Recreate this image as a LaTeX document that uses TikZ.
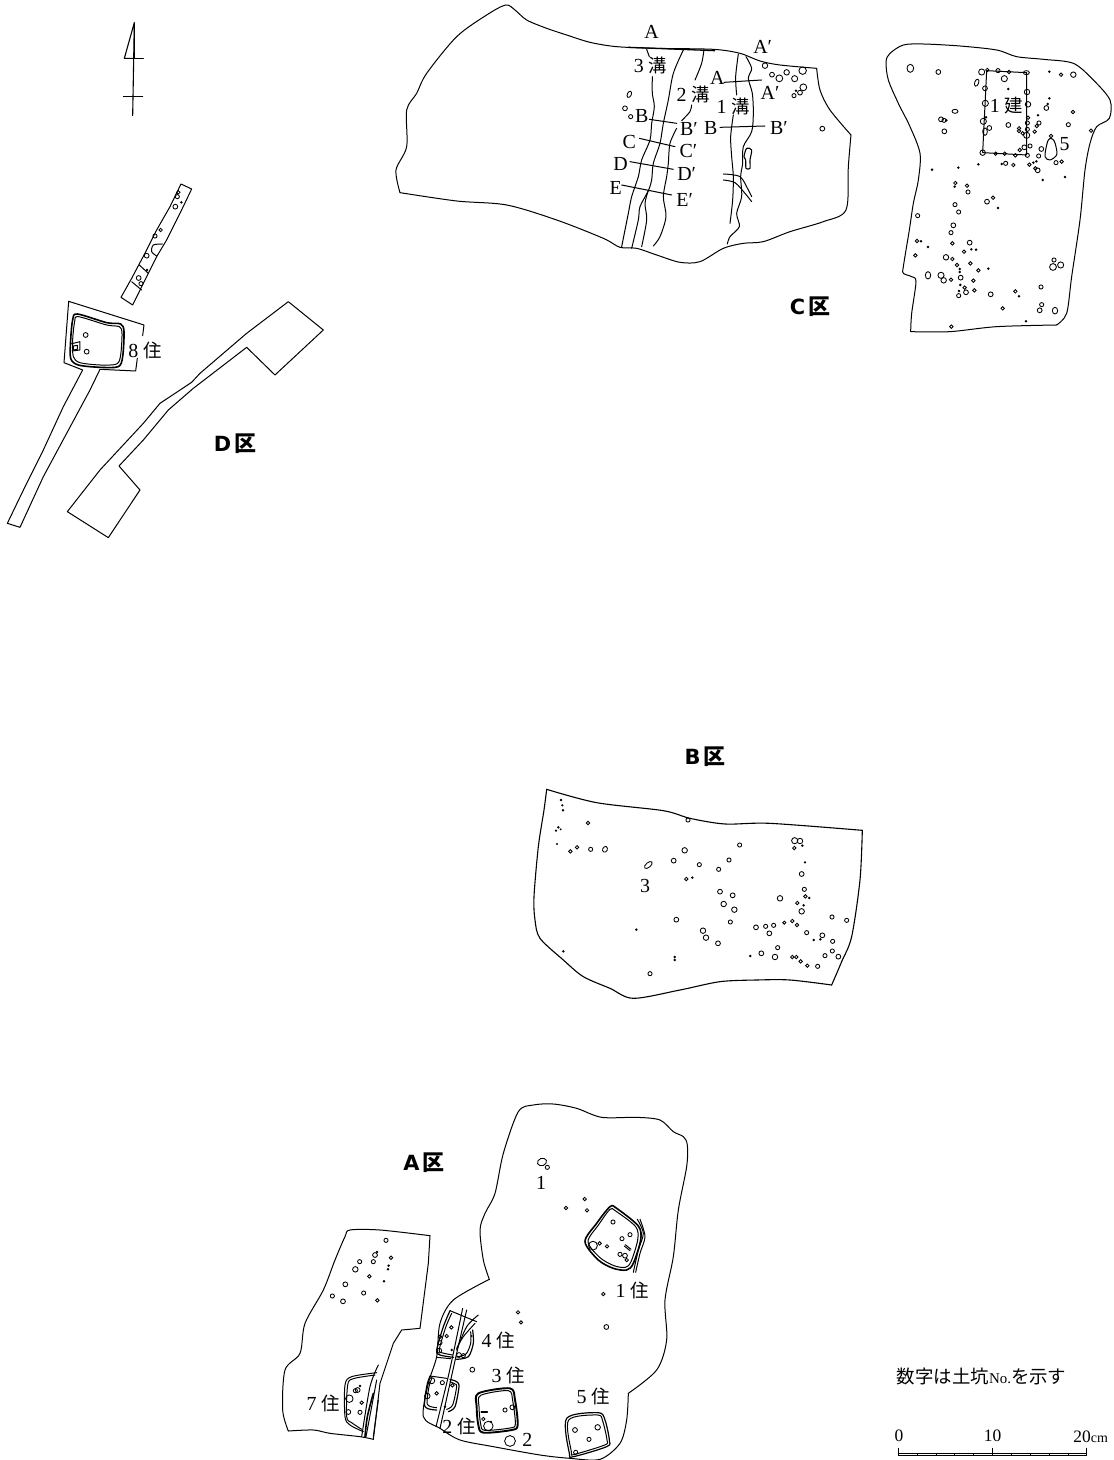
\documentclass[tikz,border=0pt]{standalone}
\usepackage{fontspec}
\setmainfont{Liberation Serif}
\newfontfamily\dv{DejaVu Sans}
\newfontfamily\cjk{Noto Sans CJK JP}
\tikzset{
  ln/.style={line width=1bp,line join=round,line cap=round},
  hole/.style={draw,line width=0.85bp},
  dot/.style={fill=black},
  thick2/.style={line width=1.6bp,line join=round},
  lab/.style={font=\fontsize{20}{20}\selectfont,inner sep=0pt},
  sm/.style={font=\fontsize{17.5}{17.5}\selectfont,inner sep=0pt},
  reg/.style={inner sep=0pt},
  zm/.style 2 args={shift={(#1,#2)},x=0.33333bp,y=-0.33333bp}
}
\newcommand\holes[1]{\foreach \hx/\hy/\hr in {#1}{%
  \ifdim\hr pt<3.4pt \fill (\hx,\hy) circle[radius=\hr+1.2];%
  \else \draw[hole] (\hx,\hy) circle[radius=\hr+1.2];\fi}}
\newcommand\cur[2][]{\draw[ln,#1] plot[smooth,tension=.5] coordinates {#2};}
\newcommand\loopc[2][]{\draw[ln,#1] plot[smooth cycle,tension=.5] coordinates {#2};}
\newcommand\cj[1]{{\fontsize{18.5}{18.5}\selectfont\cjk #1}}
\newcommand\regl[1]{{\fontsize{21}{21}\selectfont\dv\bfseries #1}\kern3bp{\fontsize{22}{22}\selectfont\cjk\bfseries 区}}
\begin{document}
\begin{tikzpicture}[x=1bp,y=-1bp]
\fill[white] (0,0) rectangle (1113,1460);
\useasboundingbox (0,0) rectangle (1113,1460);

% north arrow
\begin{scope}[zm={100}{10}]
\draw[line width=1.1bp,line join=round] (103,38) -- (73,145) -- (103,145) -- cycle;
\draw[line width=1.1bp] (103,38) -- (98,318);
\draw[ln] (73,147) -- (130,147);
\draw[ln] (70,260) -- (128,260);
\end{scope}

% C west
\begin{scope}[zm={390}{0}]
\cur{(30,578)(18,510)(50,440)(50,330)(80,280)(110,220)(200,110)(290,45)(347,15)(375,30)(410,60)(470,85)(530,105)(600,127)(680,140)(800,145)(970,148)(1050,160)(1110,183)(1170,195)(1280,205)}
\cur{(1280,205)(1290,270)(1320,330)(1383,405)}
\cur{(1383,405)(1375,500)(1368,630)(1300,665)(1200,695)(1120,725)(1060,730)(1000,745)(930,785)(870,787)(800,765)(740,745)(690,742)(640,715)(500,660)(350,615)(200,603)(30,578)}
\draw[line width=1.3bp] (715,142) -- (975,152);
\cur{(770,148)(778,170)}
\cur{(787,230)(787,280)(793,320)(785,370)(780,420)(755,480)(745,530)(725,590)(715,640)(695,740)}
\cur{(880,150)(850,220)(835,300)(820,370)(810,430)(790,490)(785,540)(775,572)(750,620)(745,660)(725,745)}
\cur{(775,572)(765,610)(770,660)(755,740)}
\cur{(942,148)(935,190)(915,240)}
\cur{(905,315)(900,335)(875,362)}
\cur{(860,385)(840,430)(835,490)(830,530)(820,590)(828,650)(810,710)(790,738)}
\cur{(1045,162)(1037,230)(1040,285)}
\cur{(1030,345)(1022,410)(1025,470)(1030,530)(1028,600)(1020,670)}
\cur{(1068,170)(1085,205)(1075,235)(1087,280)(1090,340)(1085,395)(1060,440)(1058,490)(1052,530)(1055,590)(1040,640)(1048,680)(1020,710)(1012,732)}
\loopc[line width=1.1bp]{(1070,445)(1085,450)(1080,480)(1080,505)(1068,505)(1067,480)(1062,470)}
\cur{(1000,522)(1050,530)(1075,570)(1085,590)}
\cur{(1000,540)(1035,548)(1065,580)(1085,605)}
\draw[ln] (1002,247) -- (1115,240);
\draw[ln] (990,382) -- (1125,378);
\draw[ln] (778,358) -- (860,370);
\draw[ln] (748,415) -- (855,440);
\draw[ln] (720,485) -- (850,508);
\draw[ln] (695,555) -- (845,585);
\holes{1125/197/7,1146/224/6,1168/235/9,1190/217/7,1214/236/8,1238/212/10,1240/262/9,1230/278/6,1218/272/3,1212/287/5,1297/386/6,705/325/6,722/350/5}
\draw[hole] (718,283) ellipse[x radius=6,y radius=10,rotate=-25];
\node[lab] (ca1) at (785,97) {A};
\node[lab] (ca2) at (1118,140) {A′};
\node[lab] (d3) at (782,197) {3 \cj{溝}};
\node[lab] (d2) at (910,283) {2 \cj{溝}};
\node[lab] (ca3) at (982,235) {A};
\node[lab] (ca4) at (1140,280) {A′};
\node[lab] (d1) at (1030,320) {1 \cj{溝}};
\node[lab] (cb1) at (755,347) {B};
\node[lab] (cb2) at (897,387) {B′};
\node[lab] (cb3) at (962,383) {B};
\node[lab] (cb4) at (1167,385) {B′};
\node[lab] (cc1) at (718,427) {C};
\node[lab] (cc2) at (895,453) {C′};
\node[lab] (cd1) at (692,492) {D};
\node[lab] (cd2) at (890,522) {D′};
\node[lab] (ce1) at (677,565) {E};
\node[lab] (ce2) at (884,600) {E′};
\end{scope}

% C east
\begin{scope}[zm={870}{30}]
\cur{(122,905)(125,850)(138,755)(125,740)(100,730)(100,710)(118,600)(130,520)(145,450)(150,370)(120,290)(85,220)(55,150)(48,95)(60,70)(100,45)(160,42)(270,48)(380,60)(440,80)(520,88)(610,100)(670,150)(720,210)(718,265)(680,290)(660,340)(645,420)(630,570)(605,740)(590,850)(560,885)}
\cur{(560,885)(380,890)(240,905)(122,905)}
\draw[ln] (350,122) -- (470,128) -- (470,375) -- (338,368) -- cycle;
\loopc{(543,325)(552,332)(558,350)(560,375)(540,390)(525,380)(530,345)(535,330)}
\holes{205/126/6,335/126/8,352/120/4,384/122/5,417/126/4,403/146/8,415/177/3,345/175/6,471/186/7,346/220/8,474/223/7,213/268/6,222/271/5,229/271/3,348/262/3,340/274/8,474/263/4,472/279/5,472/298/5,415/285/6,447/295/4,447/303/4,458/310/4,470/316/8,358/294/6,223/304/6,538/125/3,573/134/4,610/134/7,538/205/3,533/222/3,529/234/6,504/256/3,609/246/4,507/279/5,500/288/4,595/284/5,663/302/4,494/305/4,543/318/4,480/348/5,463/352/6,449/360/4,514/357/6,506/378/5,472/376/5,436/376/4,404/371/4,377/371/4,338/368/7,558/398/5,575/395/4,478/404/4,490/398/3,499/394/3,395/402/3,407/400/5,430/405/4,325/403/3,265/413/3,186/419/3,496/415/4,503/421/6,518/450/3,585/441/3,256/459/4,254/470/3,291/467/4,294/486/5,369/503/4,351/515/6,384/534/3,255/524/5,266/546/5,143/557/5,250/586/6,243/608/5,141/633/4,153/634/3,174/651/3,247/640/4,299/638/6,282/665/4,304/658/3,318/659/3,136/676/4,228/682/7,247/687/4,301/700/4,261/705/4,269/717/3,269/726/3,325/721/4,355/716/3,272/743/6,213/736/8,221/751/7,243/749/4,310/752/4,271/765/3,284/773/4,288/787/6,267/783/3,266/797/5,313/781/4,362/793/6,436/784/4,447/799/3,513/771/5,552/690/5,572/705/8,549/711/9,515/824/5,509/841/6,398/835/4,468/874/3,244/890/4}
\draw[hole] (121,115) ellipse[x radius=10,y radius=12];
\draw[hole] (469,128) ellipse[x radius=9,y radius=6];
\draw[hole] (320,158) ellipse[x radius=6,y radius=11,rotate=-20];
\draw[hole] (255,244) ellipse[x radius=9,y radius=6];
\draw[hole] (345,305) ellipse[x radius=7,y radius=11];
\draw[hole] (174,736) ellipse[x radius=8,y radius=11];
\draw[hole] (555,842) ellipse[x radius=8,y radius=10];
\node[lab] (b1) at (410,228) {1 \cj{建}};
\node[lab] (n5) at (584,343) {5};
\end{scope}

\node[reg] (regc) at (810,307) {\regl{C}};

% D
\begin{scope}[zm={0}{170}]
\draw[ln] (543,42) -- (575,57) -- (540,130) -- (500,210) -- (470,260) -- (440,320) -- (398,405) -- (363,382) -- (395,325) -- (440,240) -- (470,180) -- (510,110) -- cycle;
\cur{(487,222)(460,225)(455,245)(470,258)}
\draw[ln] (418,285) -- (445,310);
\draw[ln] (395,335) -- (425,360);
\holes{535/67/4,532/80/5,544/97/3,526/110/6,482/180/4,465/198/5,440/257/6,441/300/3,416/324/6,423/341/5,257/495/6,260/545/6}
\draw[ln] (428,497) -- (432,465) -- (206,394) -- (192,578) -- (248,600) -- (190,710) -- (130,840) -- (80,940) -- (22,1060) -- (60,1072) -- (130,920) -- (200,790) -- (270,660) -- (300,598) -- (407,603) -- (412,565);
\loopc[thick2]{(232,432)(320,458)(362,462)(372,485)(368,560)(355,590)(300,592)(235,585)(212,565)(212,510)(218,450)}
\loopc{(235,440)(320,465)(358,470)(366,490)(362,555)(350,582)(300,585)(240,578)(220,560)(218,510)(224,455)}
\draw[ln] (212,522) -- (240,515) -- (240,540) -- (216,543);
\draw[ln] (220,528) -- (232,526) -- (232,538) -- (220,540) -- cycle;
\draw[ln] (865,395) -- (740,490) -- (600,610) -- (575,637) -- (480,700) -- (430,760) -- (300,900) -- (202,1025) -- (325,1103) -- (420,960) -- (357,888) -- (430,810) -- (505,720) -- (580,655) -- (740,532) -- (825,615) -- (970,480) -- cycle;
\node[lab] (h8) at (435,540) {8 \cj{住}};
\end{scope}
\node[reg] (regd) at (235,444) {\regl{D}};

% B
\begin{scope}[zm={530}{780}]
\cur[line width=1.1bp]{(50,28)(200,68)(400,92)(480,115)(585,132)(720,130)(997,151)}
\cur[line width=1.1bp]{(997,151)(990,300)(965,470)(935,545)(905,615)}
\cur[line width=1.1bp]{(905,615)(780,600)(680,600)(570,605)(450,630)(310,655)(240,625)(160,590)(100,540)(30,475)(15,420)(12,350)(25,200)(42,90)(50,28)}
\holes{93/60/3,97/76/2.5,99/91/3,85/142/3,92/148/2,78/152/2.5,81/192/2.5,174/129/4,474/120/5,121/214/4,141/202/4,182/208/5,629/195/5,464/211/7,431/242/6,508/254/5,597/240/5,566/268/5,469/297/4,487/293/3,794/182/8,810/183/7,793/204/4,817/197/3,825/247/2.5,815/282/6,823/328/5,826/349/4,838/354/3,802/369/4,821/376/3,815/394/7,750/355/7,570/335/6,608/346/6,581/372/7,613/389/7,601/426/5,439/419/6,319/449/3,519/452/7,528/473/7,564/490/6,100/514/3,906/411/5,950/421/5,787/423/4,801/435/4,763/428/3.5,731/436/5,707/439/5,678/442/6,718/460/6,830/458/5,877/466/6,871/478/3,851/480/3,908/484/5,743/503/5,694/520/6,661/528/3,735/531/7,787/531/4,799/531/4,812/544/4,832/557/4,863/559/5,885/527/5,907/513/5,925/530/6,434/531/3,434/540/3,360/581/5}
\draw[hole] (225,208) ellipse[x radius=7,y radius=9,rotate=-25];
\draw[hole] (355,255) ellipse[x radius=14,y radius=7,rotate=40];
\node[lab] (n3) at (345,318) {3};
\end{scope}
\node[reg] (regb) at (705,757) {\regl{B}};

% A east
\begin{scope}[zm={470}{1100}]
\cur{(58,538)(40,480)(30,390)(45,340)(75,280)(100,160)(145,35)(190,15)(250,12)(320,25)(395,52)(500,52)(570,60)(610,95)(640,110)(652,135)(650,200)(625,330)(610,470)(585,600)(590,720)(560,810)(475,880)}
\cur{(475,880)(470,960)(450,1030)(390,1078)(300,1075)(210,1065)(70,1040)(-30,1020)(-90,985)(-140,950)(-125,850)(-100,770)(-90,670)(-50,600)(58,538)}
\loopc[thick2]{(420,320)(440,325)(505,378)(512,420)(490,490)(470,510)(430,505)(385,480)(345,425)(380,370)}
\loopc{(420,328)(437,333)(497,380)(503,420)(483,485)(466,502)(432,497)(390,473)(354,425)(386,374)}
\cur{(502,358)(520,400)(505,450)(490,517)}
\cur{(510,358)(525,410)(510,460)(497,517)}
\draw[ln] (463,438) -- (480,452);
\draw[ln] (466,434) -- (483,448);
\holes{429/366/5,480/404/5,456/416/5,369/437/12,389/430/4,411/439/4,450/463/5,465/467/6,470/480/4,344/297/4,288/324/4,351/331/4,400/582/4,409/681/6,144/637/4,153/667/3.5,120/1023/15,232/202/5}
\draw[hole] (216,186) ellipse[x radius=14,y radius=11,rotate=20];
\loopc[line width=1.9bp]{(25,880)(120,865)(135,900)(143,975)(125,990)(40,998)(25,975)(20,920)}
\loopc{(32,886)(115,872)(128,902)(136,972)(120,984)(44,991)(32,972)(27,920)}
\holes{105/930/5,127/922/6,40/957/4,55/978/13,63/965/2}
\draw[ln] (33,933) -- (52,933);
\draw[ln] (33,938) -- (52,938);
\loopc[line width=1.2bp]{(290,955)(385,938)(405,960)(418,1020)(410,1040)(310,1070)(298,1060)}
\loopc{(296,960)(383,945)(398,963)(411,1020)(404,1035)(313,1063)(304,1055)}
\holes{315/990/6,383/982/7,357/1018/5,317/1057/5}
\node[lab] (l1) at (213,250) {1};
\node[lab] (h1) at (487,572) {1 \cj{住}};
\node[lab] (h4) at (85,722) {4 \cj{住}};
\node[lab] (h3) at (115,825) {3 \cj{住}};
\node[lab] (h5) at (370,890) {5 \cj{住}};
\node[lab] (l2) at (172,1020) {2};
\end{scope}

% A west + houses 2,4,7
\begin{scope}[zm={280}{1220}]
\cur{(450,47)(300,30)(210,30)(195,50)(165,120)(130,210)(75,310)(60,400)(15,450)(8,570)(25,633)}
\cur{(25,633)(100,630)(150,640)(240,650)(280,658)}
\draw[ln] (280,658) -- (300,490) -- (340,370) -- (365,330) -- (420,325) -- (445,130) -- (450,47);
\holes{318/61/5,291/96/3,285/105/6,333/113/4,280/125/5,239/125/5,326/137/3,324/148/3,226/148/7,268/169/4,312/184/3,196/193/6,251/219/5,157/228/5,189/244/6,292/241/4,208/536/10,233/510/6,226/512/5,240/498/3,245/548/4,205/576/6,240/577/5}
\cur{(290,458)(215,470)(195,495)(195,590)(210,615)(250,635)}
\cur{(285,465)(220,476)(203,495)(200,590)(215,608)(245,628)}
\cur{(295,435)(270,500)(245,650)}
\cur{(290,480)(275,560)(258,650)}
\cur[line width=1.6bp]{(280,520)(262,590)(255,650)}
\cur{(295,540)(280,650)}
\node[lab] (h7) at (130,550) {7 \cj{住}};
% house 4
\cur[line width=1.2bp]{(510,272)(490,320)(470,390)(480,405)(520,412)}
\cur{(515,280)(497,322)(478,388)(485,398)(518,405)}
\draw[ln] (510,272) -- (590,305);
\cur[line width=1.2bp]{(578,330)(580,370)(565,410)(530,418)}
\cur{(572,335)(572,370)(558,402)(530,411)}
% ditch
\cur{(548,265)(520,400)(500,490)(468,620)}
\cur{(560,270)(530,400)(510,490)(480,625)}
\cur{(595,285)(560,320)(530,390)}
\cur{(585,310)(550,350)(530,385)}
% house 2
\draw[ln] (470,412) -- (512,416);
\cur[line width=1.2bp]{(450,468)(440,500)(435,560)(470,570)}
\cur{(456,474)(447,500)(442,553)(470,563)}
\draw[ln] (450,468) -- (500,475);
\cur[line width=1.2bp]{(510,478)(530,485)(537,500)(525,560)(505,575)}
\cur{(510,485)(525,492)(530,500)(518,555)(500,568)}
\holes{514/322/4,500/348/4,480/350/4,480/368/5,478/392/6,515/390/3,575/348/2,537/405/6,550/407/5,577/449/6,455/482/8,487/488/5,517/496/4,470/520/4,442/528/7,495/560/3}
\node[lab] (h2) at (537,620) {2 \cj{住}};
\end{scope}
\node[reg] (rega) at (424,1163) {\regl{A}};

% scale
\begin{scope}[zm={880}{1350}]
\draw[ln] (55,310) -- (620,310);
\draw[ln] (55,295) -- (55,316);
\draw[ln] (338,295) -- (338,316);
\draw[ln] (620,295) -- (620,316);
\foreach \tx in {111,168,224,281,394,451,507,564}{\draw[line width=.7bp] (\tx,310) -- (\tx,316);}
\draw[line width=.7bp] (55,316) -- (620,316);
\node[sm] (s0) at (57,258) {0};
\node[sm] (s10) at (338,258) {10};
\node[sm] (s20) at (632,261) {20{\fontsize{14}{14}\selectfont cm}};
\node[inner sep=0pt,font=\fontsize{18.5}{18.5}\selectfont] (note) at (305,78) {{\cjk 数字は土坑}{\fontsize{15}{15}\selectfont No.}{\cjk を示す}};
\end{scope}
\end{tikzpicture}
\end{document}
